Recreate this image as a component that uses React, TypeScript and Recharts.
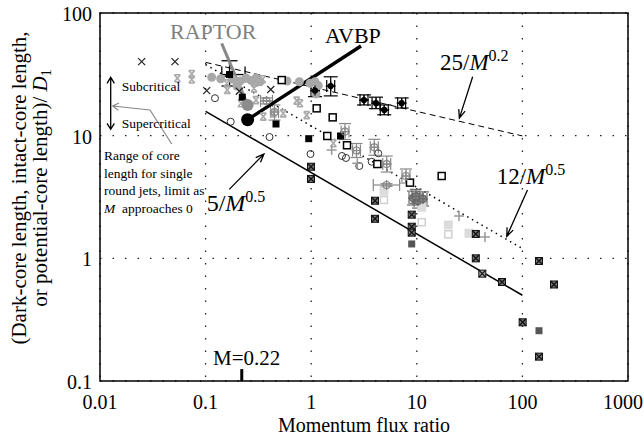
import React from 'react';
import {
  ScatterChart, Scatter, XAxis, YAxis, CartesianGrid, ReferenceLine,
  ReferenceDot, ReferenceArea, ErrorBar,
} from 'recharts';

const FONT = '"Liberation Serif", "Times New Roman", Times, serif';

// axes
const xTicks = [0.01, 0.1, 1, 10, 100, 1000];
const yTicks = [0.1, 1, 10, 100];
const xTickLabels = ['0.01', '0.1', '1', '10', '100', '1000'];
const yTickLabels = ['0.1', '1', '10', '100'];

// power-law correlation lines (end points)
const line5 = [{ m: 0.1, l: 15.8 }, { m: 100, l: 0.5 }];
const line12 = [{ m: 0.1, l: 37.9 }, { m: 100, l: 1.2 }];
const line25 = [{ m: 0.1, l: 39.6 }, { m: 100, l: 9.95 }];

// data series by marker
const blackX = [
  { m: 0.0248, l: 40.1 }, { m: 0.0513, l: 40.1 }, { m: 0.1024, l: 23.3 },
  { m: 0.2085, l: 23.0 }, { m: 0.414, l: 23.8 },
];
const grayHourglass = [
  { m: 0.054, l: 29.4 }, { m: 0.0739, l: 31.8 }, { m: 0.0739, l: 28.7 },
  { m: 0.1584, l: 26.7 }, { m: 0.1605, l: 23.6 }, { m: 0.2936, l: 27.0 },
  { m: 0.2873, l: 24.3 }, { m: 0.3473, l: 28.8 }, { m: 0.2163, l: 18.4 },
  { m: 0.3, l: 19.5 }, { m: 0.352, l: 14.3 }, { m: 0.4377, l: 15.2 },
  { m: 0.544, l: 15.2 }, { m: 0.729, l: 19.3 }, { m: 0.783, l: 18.4 },
  { m: 0.907, l: 14.7 }, { m: 1.62, l: 8.67 },
];
const grayCircle = [
  { m: 0.1142, l: 29.9 }, { m: 0.139, l: 29.1 }, { m: 0.1805, l: 28.8 },
  { m: 0.198, l: 25.4 }, { m: 0.2117, l: 27.9 }, { m: 0.2413, l: 29.5 },
  { m: 0.269, l: 28.2 }, { m: 0.3, l: 29.5 }, { m: 0.3275, l: 27.5 },
  { m: 0.59, l: 27.9 }, { m: 0.772, l: 27.5 }, { m: 0.974, l: 26.7 },
  { m: 1.086, l: 27.5 }, { m: 1.167, l: 25.6 }, { m: 1.11, l: 21.9 },
];
const openCircle = [
  { m: 0.1227, l: 20.2 }, { m: 0.1729, l: 13.0 }, { m: 0.4029, l: 9.75 },
  { m: 0.985, l: 7.09 }, { m: 1.957, l: 6.83 }, { m: 2.135, l: 6.58 },
  { m: 2.854, l: 5.66 }, { m: 3.74, l: 6.13 }, { m: 4.32, l: 7.18 },
];
const blackSquare = [
  { m: 0.2226, l: 20.6 }, { m: 0.464, l: 12.45 }, { m: 0.947, l: 9.45 }, { m: 1.895, l: 9.94 },
];
const blackSquareErr = [{ m: 0.1684, l: 31.5, ex: [0.026, 0.068], ey: [6.1, 9.3] }];
const openSquare = [
  { m: 0.5256, l: 28.4 }, { m: 1.127, l: 16.7 }, { m: 1.598, l: 14.1 },
  { m: 1.42, l: 9.94 }, { m: 2.183, l: 8.35 }, { m: 4.23, l: 5.87 },
  { m: 8.62, l: 4.14 }, { m: 17.2, l: 4.69 },
];
const squareX = [
  { m: 0.9956, l: 5.58 }, { m: 0.9956, l: 4.44 }, { m: 4.02, l: 2.95 },
  { m: 4.02, l: 2.1 }, { m: 8.95, l: 2.27 }, { m: 8.95, l: 1.81 },
  { m: 8.95, l: 1.62 }, { m: 36.2, l: 1.58 }, { m: 36.2, l: 1.0 },
  { m: 64.1, l: 0.641 }, { m: 143.6, l: 0.951 }, { m: 199.2, l: 0.612 },
  { m: 100.6, l: 0.301 }, { m: 143.6, l: 0.158 },
];
const squareXLight = [{ m: 41.7, l: 0.75 }];
const darkSquare = [{ m: 8.95, l: 1.31 }, { m: 143.6, l: 0.257 }];
const lightSquare = [
  { m: 4.89, l: 3.54 }, { m: 11.13, l: 2.61 }, { m: 19.88, l: 1.87 }, { m: 31.2, l: 1.6 },
];
const lightOpenSquare = [{ m: 4.89, l: 2.99 }, { m: 11.13, l: 1.97 }, { m: 19.88, l: 1.57 }];
const grayPlus = [
  { m: 1.563, l: 7.64 }, { m: 2.733, l: 5.95 }, { m: 25.1, l: 2.21 }, { m: 44.2, l: 1.49 },
];
const grayCross = [
  { m: 0.3774, l: 19.2, ex: [0.046, 0.053], ey: [1.05, 1.1] },
  { m: 0.449, l: 15.6, ex: [0.037, 0.041], ey: [2.2, 2.2] },
  { m: 2.09, l: 10.8, ex: [0.17, 0.19], ey: [1.5, 1.75] },
  { m: 2.685, l: 7.57, ex: [0.22, 0.24], ey: [0.93, 1.06] },
  { m: 3.96, l: 8.04, ex: [0.33, 0.36], ey: [1.12, 1.3] },
  { m: 5.19, l: 5.87, ex: [0.43, 0.47], ey: [0.82, 0.95] },
  { m: 7.9, l: 4.69, ex: [0.66, 0.72], ey: [0.58, 0.66] },
  { m: 5.17, l: 3.96, ex: [1.3, 1.7], ey: [0.1, 0.1] },
];
const darkCross = [
  { m: 9.2, l: 3.1, ex: [0.76, 0.84], ey: [0.38, 0.43] },
  { m: 10.27, l: 2.93, ex: [0.85, 0.93], ey: [0.36, 0.41] },
  { m: 11.45, l: 3.05, ex: [0.95, 1.04], ey: [0.38, 0.43] },
  { m: 9.8, l: 3.2, ex: [0.81, 0.89], ey: [0.39, 0.45] },
];
const blackCross = [
  { m: 1.086, l: 23.3, ex: [0.09, 0.099], ey: [2.5, 2.8] },
  { m: 1.53, l: 25.4, ex: [0.127, 0.139], ey: [4.3, 4.8] },
  { m: 3.16, l: 19.5, ex: [0.26, 0.29], ey: [1.7, 2.0] },
  { m: 4.11, l: 18.4, ex: [0.34, 0.37], ey: [1.8, 2.2] },
  { m: 4.92, l: 16.2, ex: [0.41, 0.45], ey: [1.4, 1.6] },
  { m: 7.19, l: 18.4, ex: [0.6, 0.65], ey: [1.6, 1.9] },
];
const raptorPoint = [{ m: 0.25, l: 17.8 }];
const avbpPoint = [{ m: 0.25, l: 13.5 }];

// annotation geometry (data coordinates)
const raptorLeader = [{ m: 0.142, l: 56.6 }, { m: 0.25, l: 17.8 }];
const avbpLeader = [{ m: 2.96, l: 53.8 }, { m: 0.25, l: 13.5 }];
const arrow25 = [{ m: 33.8, l: 30.2 }, { m: 25.3, l: 13.9 }];
const arrow12 = [{ m: 111.7, l: 3.61 }, { m: 71.1, l: 1.51 }];
const arrow5 = [{ m: 0.1676, l: 3.65 }, { m: 0.357, l: 7.09 }];
const criticalArrow = [{ m: 0.01263, l: 29.9 }, { m: 0.01263, l: 11.27 }];
const grayPointerA = [{ m: 0.0478, l: 8.55 }, { m: 0.02976, l: 16.19 }];
const grayPointerB = [{ m: 0.02976, l: 16.19 }, { m: 0.0132, l: 17.46 }];
const mTick = [{ m: 0.22, l: 0.1 }, { m: 0.22, l: 0.125 }];

// text anchors
const raptorAt = { m: 0.046, l: 61.4 };
const avbpAt = { m: 1.35, l: 56.6 };
const law25At = { m: 16.6, l: 34.3 };
const law12At = { m: 57.1, l: 4.04 };
const law5At = { m: 0.1024, l: 2.43 };
const subAt = { m: 0.01605, l: 23.1 };
const supAt = { m: 0.01605, l: 11.44 };
const mLabelAt = { m: 0.1175, l: 0.135 };
const noteM = 0.01091;
const noteL = [6.39, 4.56, 3.31, 2.36];
const noteLines = ['Range of core', 'length for single', 'round jets, limit as'];

const seg = (a: { m: number; l: number }[]) => a.map((p) => ({ x: p.m, y: p.l }));

function makeArrow(color: string, width: number, heads: 'none' | 'end' | 'both', size = 7, spread = 0.42) {
  return (p: any) => {
    const { x1, y1, x2, y2 } = p;
    const head = (xa: number, ya: number, xb: number, yb: number) => {
      const a = Math.atan2(yb - ya, xb - xa);
      const lx = xb + size * Math.cos(a + Math.PI - spread);
      const ly = yb + size * Math.sin(a + Math.PI - spread);
      const rx = xb + size * Math.cos(a + Math.PI + spread);
      const ry = yb + size * Math.sin(a + Math.PI + spread);
      return `M${lx},${ly}L${xb},${yb}L${rx},${ry}`;
    };
    let d = `M${x1},${y1}L${x2},${y2}`;
    if (heads !== 'none') d += head(x1, y1, x2, y2);
    if (heads === 'both') d += head(x2, y2, x1, y1);
    return <path d={d} fill="none" stroke={color} strokeWidth={width} />;
  };
}

const textAt = (content: React.ReactNode, size: number, color = '#000') => (p: any) => (
  <text x={p.cx} y={p.cy} fontSize={size} fontFamily={FONT} fill={color}>{content}</text>
);

// marker shapes
const shBlackX = (p: any) => (
  <path d={`M${p.cx - 3.5},${p.cy - 3.5}L${p.cx + 3.5},${p.cy + 3.5}M${p.cx - 3.5},${p.cy + 3.5}L${p.cx + 3.5},${p.cy - 3.5}`} stroke="#222" strokeWidth={1.2} fill="none" />
);
const shHourglass = (p: any) => (
  <path d={`M${p.cx - 3},${p.cy - 3.5}L${p.cx + 3},${p.cy + 3.5}M${p.cx - 3},${p.cy + 3.5}L${p.cx + 3},${p.cy - 3.5}M${p.cx - 3},${p.cy - 3.5}H${p.cx + 3}M${p.cx - 3},${p.cy + 3.5}H${p.cx + 3}`} stroke="#a9a9a9" strokeWidth={1.6} fill="none" />
);
const shGrayCircle = (p: any) => <circle cx={p.cx} cy={p.cy} r={4.5} fill="#a8a8a8" />;
const shOpenCircle = (p: any) => <circle cx={p.cx} cy={p.cy} r={3.5} fill="none" stroke="#333" strokeWidth={1} />;
const shBlackSquare = (p: any) => <rect x={p.cx - 3.5} y={p.cy - 3.5} width={7} height={7} fill="#000" />;
const shOpenSquare = (p: any) => <rect x={p.cx - 3.5} y={p.cy - 3.5} width={7} height={7} fill="#fff" stroke="#000" strokeWidth={1.5} />;
const mkSquareX = (fill: string) => (p: any) => (
  <g>
    <rect x={p.cx - 3.5} y={p.cy - 3.5} width={7} height={7} fill={fill} stroke="#111" strokeWidth={1} />
    <path d={`M${p.cx - 3.5},${p.cy - 3.5}L${p.cx + 3.5},${p.cy + 3.5}M${p.cx - 3.5},${p.cy + 3.5}L${p.cx + 3.5},${p.cy - 3.5}`} stroke="#111" strokeWidth={1.3} />
  </g>
);
const shDarkSquare = (p: any) => <rect x={p.cx - 3.5} y={p.cy - 3.5} width={7} height={7} fill="#555" />;
const shLightSquare = (p: any) => <rect x={p.cx - 4.5} y={p.cy - 4.5} width={9} height={9} fill="#dcdcdc" />;
const shLightOpenSquare = (p: any) => <rect x={p.cx - 3.5} y={p.cy - 3.5} width={7} height={7} fill="#fff" stroke="#d0d0d0" strokeWidth={1.5} />;
const shGrayPlus = (p: any) => (
  <path d={`M${p.cx - 5},${p.cy}H${p.cx + 5}M${p.cx},${p.cy - 5}V${p.cy + 5}`} stroke="#999" strokeWidth={1.5} />
);
const mkCross = (color: string, fill: string, r: number) => (p: any) => (
  <g>
    <circle cx={p.cx} cy={p.cy} r={r} fill={fill} stroke={color} strokeWidth={1.2} />
    <path d={`M${p.cx - 5},${p.cy}H${p.cx + 5}M${p.cx},${p.cy - 5}V${p.cy + 5}`} stroke={color} strokeWidth={1.2} />
  </g>
);
const shBigDot = (fill: string, r: number) => (p: any) => <circle cx={p.cx} cy={p.cy} r={r} fill={fill} />;

const XTick = (p: any) => {
  const i = xTicks.indexOf(p.payload.value);
  const last = i === xTicks.length - 1;
  return (
    <text
      x={last ? p.x + 15 : p.x} y={p.y + 28} textAnchor={last ? 'end' : 'middle'}
      fontSize={20} fontFamily={FONT} fill="#000"
    >
      {xTickLabels[i]}
    </text>
  );
};
const YTick = (p: any) => {
  const i = yTicks.indexOf(p.payload.value);
  return (
    <text x={p.x - 8} y={p.y + 8} textAnchor="end" fontSize={20} fontFamily={FONT} fill="#000">
      {yTickLabels[i]}
    </text>
  );
};
const XLabel = (p: any) => {
  const vb = p.viewBox || { x: 100, y: 381, width: 528, height: 56 };
  return (
    <text x={vb.x + vb.width / 2} y={vb.y + 51} textAnchor="middle" fontSize={20} fontFamily={FONT} fill="#000">
      Momentum flux ratio
    </text>
  );
};
const YLabel = (p: any) => {
  const vb = p.viewBox || { x: 0, y: 13, width: 100, height: 368 };
  const cy = vb.y + vb.height / 2 - 9;
  return (
    <g fontSize={21} fontFamily={FONT} fill="#000">
      <text x={26} y={cy} textAnchor="middle" transform={`rotate(-90, 26, ${cy})`}>
        (Dark-core length, intact-core length,
      </text>
      <text x={47} y={cy} textAnchor="middle" transform={`rotate(-90, 47, ${cy})`}>
        or potential-core length)/ <tspan fontStyle="italic">D</tspan>
        <tspan dy={4} fontSize={14}>1</tspan>
      </text>
    </g>
  );
};

const law = (num: string, exp: string) => (
  <>
    {num}/<tspan fontStyle="italic">M</tspan>
    <tspan dy={-9} fontSize={16}>{exp}</tspan>
  </>
);

export default function App() {
  return (
    <div style={{ position: 'absolute', left: 0, top: 0, background: '#fff' }}>
      <ScatterChart width={644} height={437} margin={{ top: 13, right: 16, bottom: 0, left: 0 }}>
        <CartesianGrid stroke="#222" strokeDasharray="1.5 11" strokeWidth={1.3} />
        <XAxis
          type="number" dataKey="m" scale="log" domain={[0.01, 1000]} ticks={xTicks}
          interval={0} allowDataOverflow axisLine={false} tickLine={false} tickSize={0}
          tickMargin={0} height={56} tick={<XTick />} label={<XLabel />}
        />
        <YAxis
          type="number" dataKey="l" scale="log" domain={[0.1, 100]} ticks={yTicks}
          interval={0} allowDataOverflow axisLine={false} tickLine={false} tickSize={0}
          tickMargin={0} width={100} tick={<YTick />} label={<YLabel />}
        />
        <ReferenceArea x1={0.01} x2={1000} y1={0.1} y2={100} fill="none" fillOpacity={0} stroke="#000" strokeWidth={1.5} ifOverflow="visible" />

        <ReferenceLine segment={seg(line5)} stroke="#000" strokeWidth={1.5} ifOverflow="visible" />
        <ReferenceLine segment={seg(line12)} stroke="#000" strokeWidth={1.5} strokeDasharray="1.5 4" ifOverflow="visible" />
        <ReferenceLine segment={seg(line25)} stroke="#000" strokeWidth={1} strokeDasharray="6 4" ifOverflow="visible" />

        <Scatter data={grayCircle} shape={shGrayCircle} isAnimationActive={false} />
        <Scatter data={grayHourglass} shape={shHourglass} isAnimationActive={false} />
        <Scatter data={blackX} shape={shBlackX} isAnimationActive={false} />
        <Scatter data={openCircle} shape={shOpenCircle} isAnimationActive={false} />
        <Scatter data={lightSquare} shape={shLightSquare} isAnimationActive={false} />
        <Scatter data={lightOpenSquare} shape={shLightOpenSquare} isAnimationActive={false} />
        <Scatter data={grayPlus} shape={shGrayPlus} isAnimationActive={false} />
        <Scatter data={openSquare} shape={shOpenSquare} isAnimationActive={false} />
        <Scatter data={blackSquare} shape={shBlackSquare} isAnimationActive={false} />
        <Scatter data={squareX} shape={mkSquareX('#777')} isAnimationActive={false} />
        <Scatter data={squareXLight} shape={mkSquareX('#aaa')} isAnimationActive={false} />
        <Scatter data={darkSquare} shape={shDarkSquare} isAnimationActive={false} />
        <Scatter data={grayCross} shape={mkCross('#888', 'none', 3.5)} isAnimationActive={false}>
          <ErrorBar dataKey="ey" direction="y" width={6} stroke="#888" strokeWidth={1.2} />
          <ErrorBar dataKey="ex" direction="x" width={6} stroke="#888" strokeWidth={1.2} />
        </Scatter>
        <Scatter data={darkCross} shape={mkCross('#666', '#888', 3.5)} isAnimationActive={false}>
          <ErrorBar dataKey="ey" direction="y" width={6} stroke="#666" strokeWidth={1.2} />
          <ErrorBar dataKey="ex" direction="x" width={6} stroke="#666" strokeWidth={1.2} />
        </Scatter>
        <Scatter data={blackCross} shape={mkCross('#000', '#000', 2.5)} isAnimationActive={false}>
          <ErrorBar dataKey="ey" direction="y" width={7} stroke="#000" strokeWidth={1.2} />
          <ErrorBar dataKey="ex" direction="x" width={6} stroke="#000" strokeWidth={1.2} />
        </Scatter>
        <Scatter data={blackSquareErr} shape={shBlackSquare} isAnimationActive={false}>
          <ErrorBar dataKey="ey" direction="y" width={8} stroke="#000" strokeWidth={1.3} />
          <ErrorBar dataKey="ex" direction="x" width={8} stroke="#000" strokeWidth={1.3} />
        </Scatter>

        <ReferenceLine segment={seg(raptorLeader)} shape={makeArrow('#888', 3, 'none')} ifOverflow="visible" />
        <ReferenceLine segment={seg(avbpLeader)} shape={makeArrow('#000', 3.5, 'none')} ifOverflow="visible" />
        <Scatter data={raptorPoint} shape={shBigDot('#8c8c8c', 6)} isAnimationActive={false} />
        <Scatter data={avbpPoint} shape={shBigDot('#000', 6.5)} isAnimationActive={false} />

        <ReferenceLine segment={seg(arrow25)} shape={makeArrow('#000', 1.3, 'end', 9, 0.38)} ifOverflow="visible" />
        <ReferenceLine segment={seg(arrow12)} shape={makeArrow('#000', 1.3, 'end', 9, 0.38)} ifOverflow="visible" />
        <ReferenceLine segment={seg(arrow5)} shape={makeArrow('#000', 1.3, 'end', 9, 0.38)} ifOverflow="visible" />
        <ReferenceLine segment={seg(criticalArrow)} shape={makeArrow('#000', 1.3, 'both', 7, 0.55)} ifOverflow="visible" />
        <ReferenceLine segment={seg(grayPointerA)} shape={makeArrow('#888', 1.2, 'none')} ifOverflow="visible" />
        <ReferenceLine segment={seg(grayPointerB)} shape={makeArrow('#888', 1.2, 'end', 7, 0.55)} ifOverflow="visible" />
        <ReferenceLine segment={seg(mTick)} stroke="#000" strokeWidth={3} ifOverflow="visible" />

        <ReferenceDot x={raptorAt.m} y={raptorAt.l} r={0} ifOverflow="visible" shape={textAt('RAPTOR', 22, '#808080')} />
        <ReferenceDot x={avbpAt.m} y={avbpAt.l} r={0} ifOverflow="visible" shape={textAt('AVBP', 22)} />
        <ReferenceDot x={law25At.m} y={law25At.l} r={0} ifOverflow="visible" shape={textAt(law('25', '0.2'), 23)} />
        <ReferenceDot x={law12At.m} y={law12At.l} r={0} ifOverflow="visible" shape={textAt(law('12', '0.5'), 23)} />
        <ReferenceDot x={law5At.m} y={law5At.l} r={0} ifOverflow="visible" shape={textAt(law('5', '0.5'), 24)} />
        <ReferenceDot x={subAt.m} y={subAt.l} r={0} ifOverflow="visible" shape={textAt('Subcritical', 13.5)} />
        <ReferenceDot x={supAt.m} y={supAt.l} r={0} ifOverflow="visible" shape={textAt('Supercritical', 13.5)} />
        {noteLines.map((t, i) => (
          <ReferenceDot key={t} x={noteM} y={noteL[i]} r={0} ifOverflow="visible" shape={textAt(t, 13.5)} />
        ))}
        <ReferenceDot
          x={noteM} y={noteL[3]} r={0} ifOverflow="visible"
          shape={textAt(<><tspan fontStyle="italic">M</tspan>{'\u00a0\u00a0approaches 0'}</>, 13.5)}
        />
        <ReferenceDot x={mLabelAt.m} y={mLabelAt.l} r={0} ifOverflow="visible" shape={textAt('M=0.22', 21)} />
      </ScatterChart>
    </div>
  );
}
